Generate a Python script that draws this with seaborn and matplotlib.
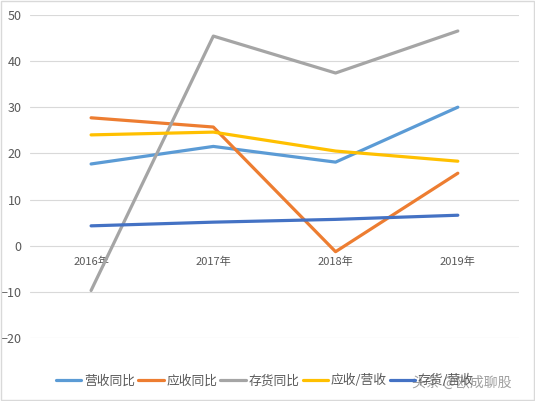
import pandas as pd
import numpy as np
import matplotlib.pyplot as plt
import seaborn as sns

# data
years = ["2016年", "2017年", "2018年", "2019年"]
yingshou_tb = [17.7, 21.5, 18.1, 30.0]     # 营收同比
yingshouk_tb = [27.7, 25.7, -1.3, 15.7]    # 应收同比
cunhuo_tb = [-9.7, 45.4, 37.4, 46.5]       # 存货同比
yingshou_ratio = [24.0, 24.6, 20.5, 18.3]  # 应收/营收
cunhuo_ratio = [4.3, 5.1, 5.7, 6.6]        # 存货/营收
names = ["营收同比", "应收同比", "存货同比", "应收/营收", "存货/营收"]
colors = ["#5B9BD5", "#ED7D31", "#A5A5A5", "#FFC000", "#4472C4"]

df = pd.DataFrame({
    "year": years * 5,
    "value": yingshou_tb + yingshouk_tb + cunhuo_tb + yingshou_ratio + cunhuo_ratio,
    "series": np.repeat(names, len(years)),
})

sns.set_style("white")
plt.rcParams['font.family'] = ['Noto Sans CJK SC', 'DejaVu Sans']

fig = plt.figure(figsize=(5.35, 4.01), dpi=100)
ax = fig.add_axes([0.056, 0.157, 0.914, 0.806])
sns.lineplot(data=df, x="year", y="value", hue="series", hue_order=names,
             palette=colors, linewidth=2.3, ax=ax, sort=False, legend=True)

ax.set_ylim(-20, 50)
ax.set_xlim(-0.5, 3.5)
ax.set_yticks(range(-20, 51, 10))
ax.yaxis.grid(True, color="#D9D9D9", linewidth=0.8)
ax.set_axisbelow(True)
for s in ax.spines.values():
    s.set_visible(False)
ax.spines['bottom'].set_position(('data', 0))
ax.tick_params(axis='x', length=0, pad=8, labelsize=8, labelcolor="#595959")
ax.tick_params(axis='y', length=0, pad=6, labelsize=9, labelcolor="#595959")
ax.set_xlabel("")
ax.set_ylabel("")

h, l = ax.get_legend_handles_labels()
ax.get_legend().remove()
fig.legend(h, l, loc='lower center', bbox_to_anchor=(0.495, 0.005), ncol=5,
           frameon=False, fontsize=9.2, handlelength=2.0, columnspacing=0.25,
           handletextpad=0.2, labelcolor="#595959")

# watermark over the last legend entry, as in the source image
fig.text(0.957, 0.028, "头条 @欧成聊股", ha='right', va='bottom', fontsize=10,
         color="#7F7F7F", alpha=0.75)

# light border round the chart
fig.patches.append(plt.Rectangle((0.002, 0.002), 0.996, 0.996, transform=fig.transFigure,
                                 fill=False, edgecolor="#D9D9D9", linewidth=1))

fig.savefig("out.png", dpi=100)
